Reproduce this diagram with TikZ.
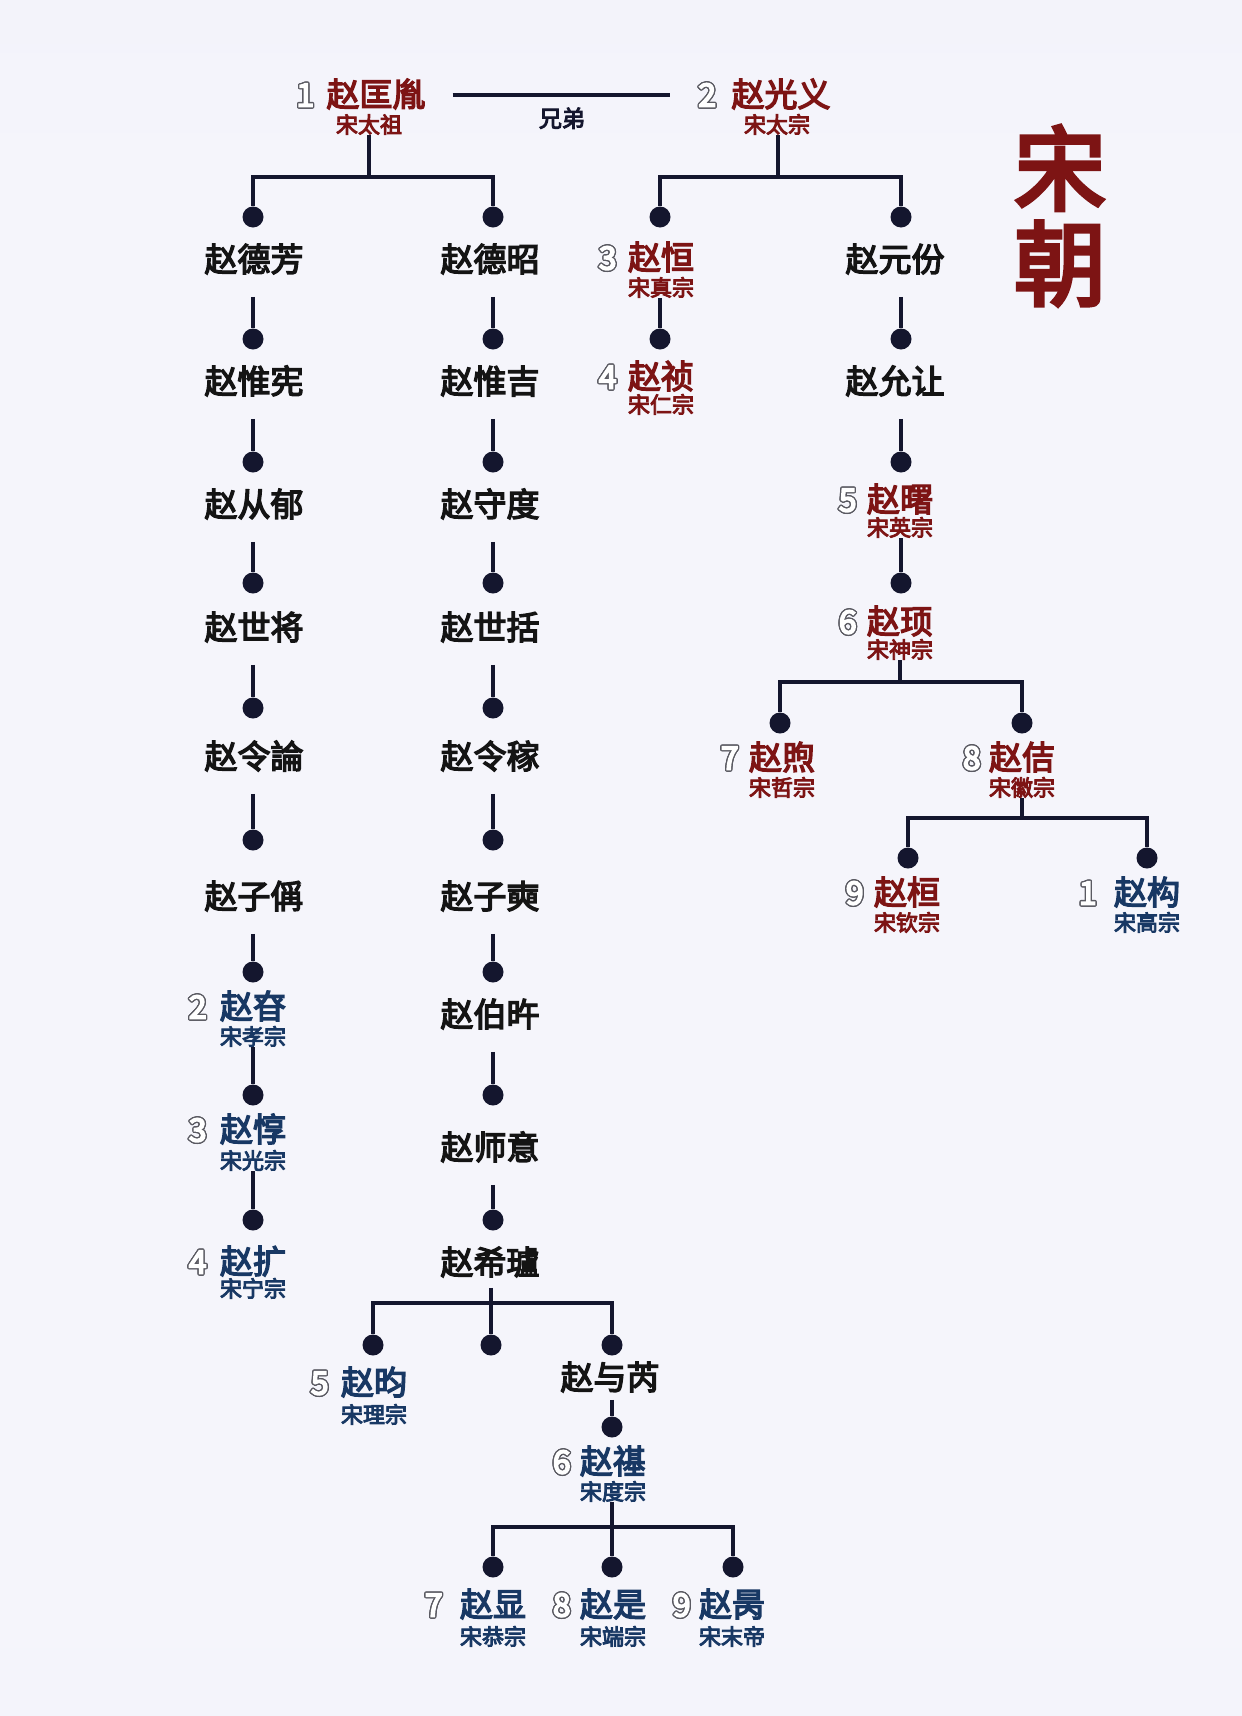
\documentclass[tikz,border=0pt]{standalone}
\usepackage{fontspec}
\usepackage{contour}
\usetikzlibrary{positioning}
\newfontfamily\cjk{Noto Sans CJK SC}
\newfontfamily\cjkb{Noto Sans CJK SC}[FakeBold=4.2]
\newfontfamily\cjkn{Noto Sans CJK SC}[FakeBold=5]
\definecolor{songred}{RGB}{125,20,20}
\definecolor{songblue}{RGB}{24,56,100}
\definecolor{linkc}{RGB}{20,22,46}
\definecolor{numgray}{RGB}{90,90,98}
\definecolor{bgtop}{RGB}{232,232,247}
\definecolor{bgmid}{RGB}{245,245,251}
\definecolor{bgbot}{RGB}{231,232,247}
\pgfdeclareverticalshading{pagebg}{100bp}{color(0bp)=(bgbot); color(28bp)=(bgmid); color(70bp)=(bgmid); color(100bp)=(bgtop)}
\contourlength{1.3pt}
\newcommand{\hollow}[1]{\contour{numgray}{#1}}

\begin{document}
\begin{tikzpicture}[x=1pt, y=-1pt]

\tikzstyle{line}=[draw, line width=3.2pt, linkc]
\tikzstyle{dot}=[circle, fill=linkc, inner sep=0pt, minimum size=21pt]
\tikzstyle{person}=[font=\cjkb\fontsize{33}{33}\selectfont, inner sep=0pt, text height=26.4pt, text depth=3.3pt, text=black!92]
\tikzstyle{plain}=[person, outer ysep=22pt]
\tikzstyle{emperor}=[person, text=songred]
\tikzstyle{southern}=[person, text=songblue]
\tikzstyle{miaohao}=[font=\cjkb\fontsize{22}{22}\selectfont, inner sep=0pt, text height=17.6pt, text depth=2.2pt]
\tikzstyle{num}=[font=\cjkn\fontsize{32}{32}\selectfont, inner sep=0pt, text=white, text height=23pt, text depth=0pt]
\tikzstyle{dynasty}=[font=\cjkb\fontsize{92}{92}\selectfont, text=songred, inner sep=0pt, text height=73pt, text depth=9pt]

\shade[shading=pagebg] (0,0) rectangle (1242,1716);
\useasboundingbox (0,0) rectangle (1242,1716);

\node[dynasty] (song) at (1060,171) {宋};
\node[dynasty, below=13pt of song] (chao) {朝};

% the two brothers
\node[emperor] (taizu) at (376,95) {赵匡胤};
\node[num, left=12pt of taizu] (taizu_num) {\hollow{1}};
\node[miaohao, text=songred, below=5pt of taizu, xshift=-7pt] (taizu_mh) {宋太祖};
\node[emperor] (taizong) at (781,95) {赵光义};
\node[num, left=15pt of taizong] (taizong_num) {\hollow{2}};
\node[miaohao, text=songred, below=5pt of taizong, xshift=-4pt] (taizong_mh) {宋太宗};

\path[line, shorten <=27pt, shorten >=28pt] (taizu) -- node[below=11pt, text=linkc, font=\cjkb\fontsize{23}{23}\selectfont, inner sep=0pt] (xiongdi) {兄弟} (taizong_num);

\coordinate (fork_zu) at (369,177);
\coordinate (fork_zong) at (778,177);

% line of Zhao Defang
\node[dot] (defang_dot) at (253,217) {};
\node[plain] (defang) at (254,260) {赵德芳};
\node[dot] (weixian_dot) at (253,339) {};
\node[plain] (weixian) at (254,382) {赵惟宪};
\node[dot] (congyu_dot) at (253,462) {};
\node[plain] (congyu) at (254,505) {赵从郁};
\node[dot] (shijiang_dot) at (253,583) {};
\node[plain] (shijiang) at (254,628) {赵世将};
\node[dot] (linglun_dot) at (253,708) {};
\node[plain] (linglun) at (254,757) {赵令論};
\node[dot] (zicheng_dot) at (253,840) {};
\node[plain] (zicheng) at (254,897) {赵子偁};
\node[dot] (xiaozong_dot) at (253,972) {};
\node[southern] (xiaozong) at (253,1007) {赵昚};
\node[num, left=13pt of xiaozong] (xiaozong_num) {\hollow{2}};
\node[miaohao, text=songblue, below=5pt of xiaozong] (xiaozong_mh) {宋孝宗};
\node[dot] (guangzong_dot) at (253,1095) {};
\node[southern] (guangzong) at (253,1130) {赵惇};
\node[num, left=13pt of guangzong] (guangzong_num) {\hollow{3}};
\node[miaohao, text=songblue, below=6pt of guangzong] (guangzong_mh) {宋光宗};
\node[dot] (ningzong_dot) at (253,1220) {};
\node[southern] (ningzong) at (253,1262) {赵扩};
\node[num, left=13pt of ningzong] (ningzong_num) {\hollow{4}};
\node[miaohao, text=songblue, below=2pt of ningzong] (ningzong_mh) {宋宁宗};

% line of Zhao Dezhao
\node[dot] (dezhao_dot) at (493,217) {};
\node[plain] (dezhao) at (490,260) {赵德昭};
\node[dot] (weiji_dot) at (493,339) {};
\node[plain] (weiji) at (490,382) {赵惟吉};
\node[dot] (shoudu_dot) at (493,462) {};
\node[plain] (shoudu) at (490,505) {赵守度};
\node[dot] (shikuo_dot) at (493,583) {};
\node[plain] (shikuo) at (490,628) {赵世括};
\node[dot] (lingjia_dot) at (493,708) {};
\node[plain] (lingjia) at (490,757) {赵令稼};
\node[dot] (zishi_dot) at (493,840) {};
\node[plain] (zishi) at (490,897) {赵子奭};
\node[dot] (bowu_dot) at (493,972) {};
\node[plain] (bowu) at (490,1015) {赵伯旿};
\node[dot] (shiyi_dot) at (493,1095) {};
\node[plain] (shiyi) at (490,1148) {赵师意};
\node[dot] (xilu_dot) at (493,1220) {};
\node[plain] (xilu) at (490,1263) {赵希瓐};

\coordinate (fork_xilu) at (491,1303);
\node[dot] (lizong_dot) at (373,1345) {};
\node[dot] (xilu_mid) at (491,1345) {};
\node[dot] (yurui_dot) at (612,1345) {};
\node[southern] (lizong) at (374,1383) {赵昀};
\node[num, left=12pt of lizong] (lizong_num) {\hollow{5}};
\node[miaohao, text=songblue, below=7pt of lizong] (lizong_mh) {宋理宗};
\node[plain] (yurui) at (610,1378) {赵与芮};
\node[dot] (duzong_dot) at (612,1427) {};
\node[southern] (duzong) at (613,1462) {赵禥};
\node[num, left=9pt of duzong] (duzong_num) {\hollow{6}};
\node[miaohao, text=songblue, below=5pt of duzong] (duzong_mh) {宋度宗};

\coordinate (fork_du) at (612,1527);
\node[dot] (gongzong_dot) at (493,1567) {};
\node[dot] (duanzong_dot) at (612,1567) {};
\node[dot] (modi_dot) at (733,1567) {};
\node[southern] (gongzong) at (493,1605) {赵显};
\node[num, left=17pt of gongzong] (gongzong_num) {\hollow{7}};
\node[miaohao, text=songblue, below=7pt of gongzong] (gongzong_mh) {宋恭宗};
\node[southern] (duanzong) at (613,1605) {赵是};
\node[num, left=9pt of duanzong] (duanzong_num) {\hollow{8}};
\node[miaohao, text=songblue, below=7pt of duanzong] (duanzong_mh) {宋端宗};
\node[southern] (modi) at (732,1605) {赵昺};
\node[num, left=8pt of modi] (modi_num) {\hollow{9}};
\node[miaohao, text=songblue, below=7pt of modi] (modi_mh) {宋末帝};

% line of Zhao Guangyi
\node[dot] (zhenzong_dot) at (660,217) {};
\node[emperor] (zhenzong) at (661,258) {赵恒};
\node[num, left=11pt of zhenzong] (zhenzong_num) {\hollow{3}};
\node[miaohao, text=songred, below=5pt of zhenzong] (zhenzong_mh) {宋真宗};
\node[dot] (renzong_dot) at (660,339) {};
\node[emperor] (renzong) at (661,377) {赵祯};
\node[num, left=11pt of renzong] (renzong_num) {\hollow{4}};
\node[miaohao, text=songred, below=3pt of renzong] (renzong_mh) {宋仁宗};

\node[dot] (yuanfen_dot) at (901,217) {};
\node[plain] (yuanfen) at (895,260) {赵元份};
\node[dot] (yunrang_dot) at (901,339) {};
\node[plain] (yunrang) at (895,382) {赵允让};
\node[dot] (yingzong_dot) at (901,462) {};
\node[emperor] (yingzong) at (900,500) {赵曙};
\node[num, left=10pt of yingzong] (yingzong_num) {\hollow{5}};
\node[miaohao, text=songred, below=3pt of yingzong] (yingzong_mh) {宋英宗};
\node[dot] (shenzong_dot) at (901,583) {};
\node[emperor] (shenzong) at (900,622) {赵顼};
\node[num, left=10pt of shenzong] (shenzong_num) {\hollow{6}};
\node[miaohao, text=songred, below=3pt of shenzong] (shenzong_mh) {宋神宗};

\coordinate (fork_shen) at (900,682);
\node[dot] (zhezong_dot) at (780,723) {};
\node[dot] (huizong_dot) at (1022,723) {};
\node[emperor] (zhezong) at (782,758) {赵煦};
\node[num, left=10pt of zhezong] (zhezong_num) {\hollow{7}};
\node[miaohao, text=songred, below=5pt of zhezong] (zhezong_mh) {宋哲宗};
\node[emperor] (huizong) at (1022,758) {赵佶};
\node[num, left=8pt of huizong] (huizong_num) {\hollow{8}};
\node[miaohao, text=songred, below=5pt of huizong] (huizong_mh) {宋徽宗};

\coordinate (fork_hui) at (1022,818);
\node[dot] (qinzong_dot) at (908,858) {};
\node[dot] (gaozong_dot) at (1147,858) {};
\node[emperor] (qinzong) at (907,893) {赵桓};
\node[num, left=10pt of qinzong] (qinzong_num) {\hollow{9}};
\node[miaohao, text=songred, below=5pt of qinzong] (qinzong_mh) {宋钦宗};
\node[southern] (gaozong) at (1147,893) {赵构};
\node[num, left=17pt of gaozong] (gaozong_num) {\hollow{1}};
\node[miaohao, text=songblue, below=5pt of gaozong] (gaozong_mh) {宋高宗};

% connectors
\path[line] (taizu_mh.south -| fork_zu) -- (fork_zu);
\path[line] (defang_dot) |- (fork_zu) -| (dezhao_dot);
\path[line] (taizong_mh.south -| fork_zong) -- (fork_zong);
\path[line] (zhenzong_dot) |- (fork_zong) -| (yuanfen_dot);

\path[line] (defang.south -| weixian_dot) -- (weixian_dot);
\path[line] (weixian.south -| congyu_dot) -- (congyu_dot);
\path[line] (congyu.south -| shijiang_dot) -- (shijiang_dot);
\path[line] (shijiang.south -| linglun_dot) -- (linglun_dot);
\path[line] (linglun.south -| zicheng_dot) -- (zicheng_dot);
\path[line] (zicheng.south -| xiaozong_dot) -- (xiaozong_dot);
\path[line] (xiaozong_mh.south -| guangzong_dot) -- (guangzong_dot);
\path[line] (guangzong_mh.south -| ningzong_dot) -- (ningzong_dot);

\path[line] (dezhao.south -| weiji_dot) -- (weiji_dot);
\path[line] (weiji.south -| shoudu_dot) -- (shoudu_dot);
\path[line] (shoudu.south -| shikuo_dot) -- (shikuo_dot);
\path[line] (shikuo.south -| lingjia_dot) -- (lingjia_dot);
\path[line] (lingjia.south -| zishi_dot) -- (zishi_dot);
\path[line] (zishi.south -| bowu_dot) -- (bowu_dot);
\path[line] (bowu.south -| shiyi_dot) -- (shiyi_dot);
\path[line] (shiyi.south -| xilu_dot) -- (xilu_dot);
\path[line, shorten <=-12pt] (xilu.south -| xilu_mid) -- (xilu_mid);
\path[line] (lizong_dot) |- (fork_xilu) -| (yurui_dot);
\path[line, shorten <=-15pt] (yurui.south -| duzong_dot) -- (duzong_dot);
\path[line] (duzong_mh.south -| duanzong_dot) -- (duanzong_dot);
\path[line] (gongzong_dot) |- (fork_du) -| (modi_dot);

\path[line] (zhenzong_mh.south -| renzong_dot) -- (renzong_dot);
\path[line] (yuanfen.south -| yunrang_dot) -- (yunrang_dot);
\path[line] (yunrang.south -| yingzong_dot) -- (yingzong_dot);
\path[line] (yingzong_mh.south -| shenzong_dot) -- (shenzong_dot);
\path[line] (shenzong_mh.south -| fork_shen) -- (fork_shen);
\path[line] (zhezong_dot) |- (fork_shen) -| (huizong_dot);
\path[line] (huizong_mh.south -| fork_hui) -- (fork_hui);
\path[line] (qinzong_dot) |- (fork_hui) -| (gaozong_dot);

\end{tikzpicture}
\end{document}
